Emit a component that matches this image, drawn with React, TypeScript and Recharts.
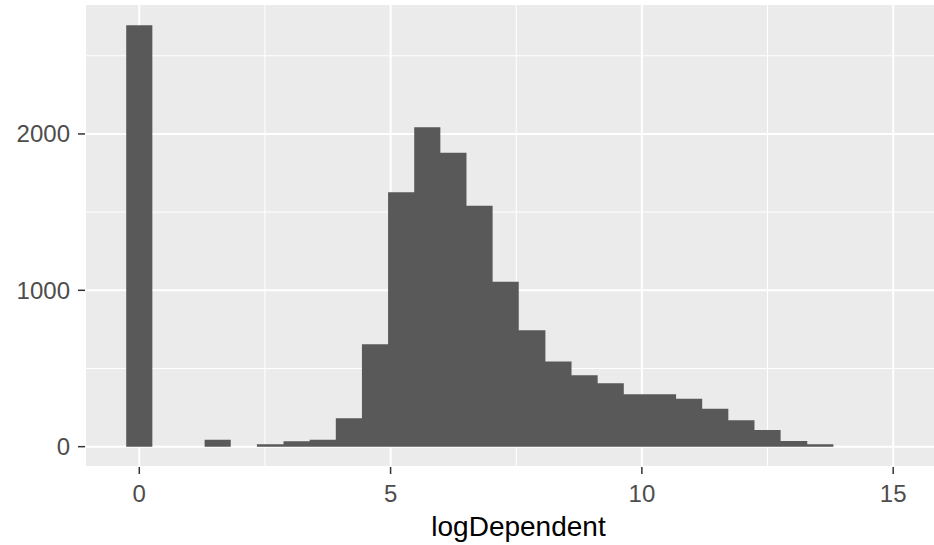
import { AreaChart, Area, XAxis, YAxis, CartesianGrid, Label } from 'recharts'

// histogram bins (edges, 30 bins)
const binEdges = [
  -0.26, 0.26, 0.78, 1.3, 1.82, 2.34, 2.87, 3.39, 3.91, 4.43, 4.95, 5.47, 5.99, 6.51, 7.03, 7.55,
  8.08, 8.6, 9.12, 9.64, 10.16, 10.68, 11.2, 11.72, 12.24, 12.76, 13.29, 13.81, 14.33, 14.85, 15.37,
]
const counts = [
  2695, 0, 0, 45, 0, 15, 35, 45, 182, 655, 1627, 2043, 1880, 1541, 1055, 744,
  544, 457, 405, 335, 335, 307, 243, 169, 107, 36, 15, 0, 0, 0,
]

const xTicks = [0, 5, 10, 15]
const xMinor = [2.5, 7.5, 12.5]
const yTicks = [0, 1000, 2000]
const yMinor = [500, 1500, 2500]

const X_DOMAIN = [-1.08, 16.17]
const Y_DOMAIN = [-130, 2831]

// step area: each edge holds its bin's count until the next edge
const data = binEdges.map((x, i) => ({ x, count: counts[Math.min(i, counts.length - 1)] }))

const FONT = '"Liberation Sans", Arial, sans-serif'
const tickStyle = { fill: '#4D4D4D', fontSize: 24, fontFamily: FONT }

export default function App() {
  return (
    <div style={{ position: 'absolute', left: 0, top: 0, width: 934, height: 545, overflow: 'hidden', background: '#fff' }}>
      <AreaChart width={952} height={545} data={data} margin={{ top: 4, right: 0, bottom: 0, left: 0 }}>
        {/* minor grid on hidden axes */}
        <CartesianGrid xAxisId="minor" yAxisId="minor" fill="#EBEBEB" stroke="#FFFFFF" strokeWidth={1} />
        <CartesianGrid stroke="#FFFFFF" strokeWidth={2} />
        <XAxis xAxisId="minor" dataKey="x" type="number" domain={X_DOMAIN} ticks={xMinor} allowDataOverflow hide />
        <YAxis yAxisId="minor" type="number" domain={Y_DOMAIN} ticks={yMinor} allowDataOverflow hide />
        <XAxis
          dataKey="x"
          type="number"
          domain={X_DOMAIN}
          ticks={xTicks}
          allowDataOverflow
          axisLine={false}
          tickSize={7}
          tickMargin={11}
          tickLine={{ stroke: '#333333', strokeWidth: 1.5 }}
          tick={tickStyle}
          height={78}
        >
          <Label value="logDependent" position="insideBottom" offset={9} style={{ fill: '#000', fontSize: 28, fontFamily: FONT }} />
        </XAxis>
        <YAxis
          type="number"
          domain={Y_DOMAIN}
          ticks={yTicks}
          allowDataOverflow
          axisLine={false}
          tickSize={7}
          tickMargin={8}
          tickLine={{ stroke: '#333333', strokeWidth: 1.5 }}
          tick={tickStyle}
          width={85}
        />
        <Area
          dataKey="count"
          type="stepAfter"
          baseValue={0}
          fill="#595959"
          fillOpacity={1}
          stroke="none"
          isAnimationActive={false}
        />
      </AreaChart>
    </div>
  )
}
